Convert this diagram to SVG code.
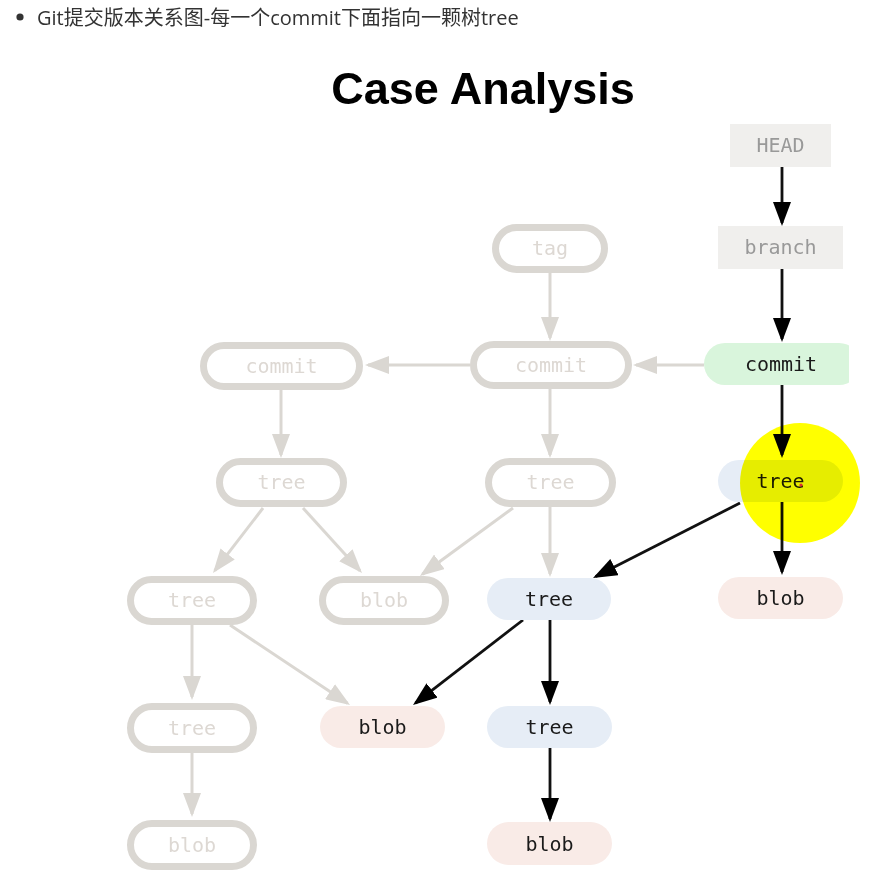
<svg xmlns="http://www.w3.org/2000/svg" width="877" height="886" viewBox="0 0 877 886">
<style>
.hdr{font-family:"Open Sans","Noto Sans CJK SC",sans-serif;font-size:20px;fill:#333}
.title{font-family:"Liberation Sans",Arial,sans-serif;font-size:45px;font-weight:bold;fill:#000}
.lbl{font-family:"DejaVu Sans Mono","Liberation Mono",monospace;font-size:20px;text-anchor:middle}
.gnode rect{fill:#fff;stroke:#dad7d2;stroke-width:7}
.gnode text{fill:#ddd8d3}
.ref rect{fill:#f0efed}
.ref text{fill:#999}
.act text{fill:#1a1a1a}
.tree rect{fill:#e6edf6}
.blob rect{fill:#f9ebe7}
.com rect{fill:#d9f5dc}
.cg path{fill:none;stroke:#dad7d2;stroke-width:3;marker-end:url(#ag)}
.cb path{fill:none;stroke:#111;stroke-width:2.8;marker-end:url(#ab)}
</style>
<defs>
<marker id="ag" viewBox="0 0 24 18" refX="21" refY="9" markerWidth="24" markerHeight="18" markerUnits="userSpaceOnUse" orient="auto"><path d="M0,0 L24,9 L0,18 z" fill="#dad7d2"/></marker>
<marker id="ab" viewBox="0 0 24 18" refX="21" refY="9" markerWidth="24" markerHeight="18" markerUnits="userSpaceOnUse" orient="auto"><path d="M0,0 L24,9 L0,18 z" fill="#000"/></marker>
<clipPath id="clipR"><rect x="0" y="0" width="849" height="886"/></clipPath>
</defs>
<rect width="877" height="886" fill="#fff"/>
<circle cx="20" cy="17" r="3.6" fill="#333"/>
<text class="hdr" x="37" y="25">Git提交版本关系图-每一个commit下面指向一颗树tree</text>
<text class="title" x="483" y="104" text-anchor="middle">Case Analysis</text>

<g id="connectors">
<g class="cg">
<path d="M550,273 V338"/>
<path d="M470,365 H368"/>
<path d="M281,390 V455"/>
<path d="M550,389 V455"/>
<path d="M263,508 L214.8,570.6"/>
<path d="M303,508 L360,570.8"/>
<path d="M513,508 L422.4,574.2"/>
<path d="M550,507 V574"/>
<path d="M192,625 V697"/>
<path d="M230,625 L347.5,703.3"/>
<path d="M192,753 V814"/>
<path d="M704,365 H636"/>
</g>
<g class="cb">
<path d="M782,167 V223"/>
<path d="M782,269 V339"/>
<path d="M782,385 V455"/>
<path d="M782,502 V572"/>
<path d="M740,503 L595.7,576.6"/>
<path d="M523,620 L415.4,703.2"/>
<path d="M550,620 V702"/>
<path d="M550,748 V819"/>
</g>
</g>

<g id="tag" class="gnode"><rect x="495.5" y="227.5" width="109" height="42" rx="21"/><text class="lbl" x="550" y="255">tag</text></g>
<g id="commit-mid" class="gnode"><rect x="473.5" y="344.5" width="155" height="41" rx="20.5"/><text class="lbl" x="551" y="372">commit</text></g>
<g id="commit-left" class="gnode"><rect x="203.5" y="345.5" width="156" height="41" rx="20.5"/><text class="lbl" x="281.5" y="373">commit</text></g>
<g id="tree-left" class="gnode"><rect x="219.5" y="461.5" width="124" height="42" rx="21"/><text class="lbl" x="281.5" y="489">tree</text></g>
<g id="tree-mid" class="gnode"><rect x="488.5" y="461.5" width="124" height="42" rx="21"/><text class="lbl" x="550.5" y="489">tree</text></g>
<g id="tree-r3-gray" class="gnode"><rect x="130.5" y="579.5" width="123" height="42" rx="21"/><text class="lbl" x="192" y="607">tree</text></g>
<g id="blob-r3-gray" class="gnode"><rect x="322.5" y="579.5" width="123" height="42" rx="21"/><text class="lbl" x="384" y="607">blob</text></g>
<g id="tree-r4-gray" class="gnode"><rect x="130.5" y="706.5" width="123" height="43" rx="21.5"/><text class="lbl" x="192" y="735">tree</text></g>
<g id="blob-r5-gray" class="gnode"><rect x="130.5" y="823.5" width="123" height="43" rx="21.5"/><text class="lbl" x="192" y="852">blob</text></g>

<g id="head" class="ref"><rect x="730" y="124" width="101" height="43"/><text class="lbl" x="780.5" y="152">HEAD</text></g>
<g id="branch" class="ref"><rect x="718" y="226" width="125" height="43"/><text class="lbl" x="780.5" y="254">branch</text></g>
<g id="commit-head" class="act com" clip-path="url(#clipR)"><rect x="704" y="343" width="156" height="42" rx="21"/><text class="lbl" x="781" y="371">commit</text></g>
<g id="tree-right" class="act tree"><rect x="718" y="460" width="125" height="42" rx="21"/><text class="lbl" x="780.5" y="488">tree</text></g>
<g id="blob-right" class="act blob"><rect x="718" y="577" width="125" height="42" rx="21"/><text class="lbl" x="780.5" y="605">blob</text></g>
<g id="tree-r3" class="act tree"><rect x="487" y="578" width="124" height="42" rx="21"/><text class="lbl" x="549" y="606">tree</text></g>
<g id="blob-r4" class="act blob"><rect x="320" y="706" width="125" height="42" rx="21"/><text class="lbl" x="382.5" y="734">blob</text></g>
<g id="tree-r4" class="act tree"><rect x="487" y="706" width="125" height="42" rx="21"/><text class="lbl" x="549.5" y="734">tree</text></g>
<g id="blob-r5" class="act blob"><rect x="487" y="822" width="125" height="43" rx="21.5"/><text class="lbl" x="549.5" y="851">blob</text></g>

<circle cx="800" cy="483" r="60" fill="#ffff00" style="mix-blend-mode:multiply"/>
<circle cx="801" cy="485" r="1.6" fill="#e03030"/>
</svg>
